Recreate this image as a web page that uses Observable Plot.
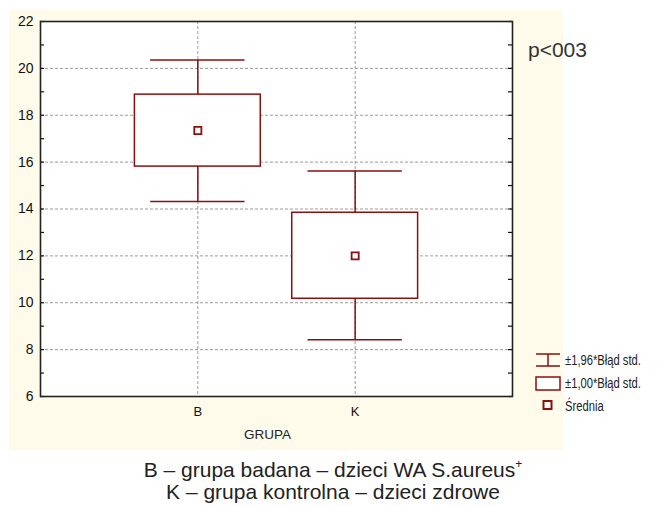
<!DOCTYPE html>
<html>
<head>
<meta charset="utf-8">
<script src="https://cdn.jsdelivr.net/npm/d3@7"></script>
<script src="https://cdn.jsdelivr.net/npm/@observablehq/plot@0.6"></script>
<style>
  body { margin: 0; background: #fff; font-family: "Liberation Sans", Arial, sans-serif; }
  #wrap { position: relative; width: 667px; height: 506px; overflow: hidden; }
  #beige { position: absolute; left: 9px; top: 10px; width: 554px; height: 440px; background: #fefbeb; }
  #chart { position: absolute; left: 0; top: 0; }
  #pval { position: absolute; left: 528px; top: 38px; font-size: 21px; color: #333; white-space: nowrap; }
  #legend { position: absolute; left: 535px; top: 348px; font-size: 14px; color: #222; white-space: nowrap; }
  #legend div { height: 23px; display: flex; align-items: center; }
  #legend svg { margin-right: 4px; flex: none; }
  #legend span { display: inline-block; transform: scaleX(0.8); transform-origin: left center; }
  #caption { position: absolute; left: 0; top: 459px; width: 666px; text-align: center; font-size: 21px; line-height: 22px; color: #222; }
  #caption sup { font-size: 12px; vertical-align: 9px; line-height: 0; }
</style>
</head>
<body>
<div id="wrap">
  <div id="beige"></div>
  <div id="chart"></div>
  <div id="pval">p&lt;003</div>
  <div id="legend">
    <div><svg width="26" height="16"><path d="M1,2H25M13,2V14M1,14H25" stroke="#8b0f0f" stroke-width="1.5" fill="none"/></svg><span>±1,96*Błąd std.</span></div>
    <div><svg width="26" height="16"><rect x="1" y="2" width="24" height="13" stroke="#8b0f0f" stroke-width="1.5" fill="white"/></svg><span>±1,00*Błąd std.</span></div>
    <div><svg width="26" height="16"><rect x="8.5" y="3" width="8" height="8" stroke="#8b0f0f" stroke-width="2" fill="white"/></svg><span>Średnia</span></div>
  </div>
  <div id="caption">B – grupa badana – dzieci WA S.aureus<sup>+</sup><br>K – grupa kontrolna – dzieci zdrowe</div>
</div>
<script>
const groups = ["B", "K"];
const means = [17.35, 12.0];
const seLow = [15.81, 10.17];
const seHigh = [18.88, 13.84];
const ciLow = [14.32, 8.42];
const ciHigh = [20.36, 15.62];
const yTicks = [6, 8, 10, 12, 14, 16, 18, 20, 22];
const yMinor = [7, 9, 11, 13, 15, 17, 19, 21];

const data = groups.map((g, i) => ({
  g, pos: i + 1, mean: means[i], lo1: seLow[i], hi1: seHigh[i], lo2: ciLow[i], hi2: ciHigh[i]
}));

const red = "#8b0f0f";
const W = 667, H = 450, mL = 40, mR = 155, mT = 21, mB = 54;
const innerW = W - mL - mR;

const chart = Plot.plot({
  width: W, height: H,
  marginLeft: mL, marginRight: mR, marginTop: mT, marginBottom: mB,
  style: { background: "transparent", fontFamily: "Liberation Sans, Arial, sans-serif", color: "#111", overflow: "visible" },
  x: { domain: [0, 3] },
  y: { domain: [6, 22] },
  marks: [
    Plot.frame({ fill: "white" }),
    Plot.gridY(yTicks.slice(1, -1), { stroke: "#9a9a9a", strokeOpacity: 1, strokeDasharray: "3,2" }),
    Plot.gridX([1, 2], { stroke: "#9a9a9a", strokeOpacity: 1, strokeDasharray: "3,2" }),
    Plot.ruleX(data, { x: "pos", y1: "lo2", y2: "lo1", stroke: red, strokeWidth: 1.5 }),
    Plot.ruleX(data, { x: "pos", y1: "hi1", y2: "hi2", stroke: red, strokeWidth: 1.5 }),
    Plot.ruleY(data, { y: "lo2", x1: d => d.pos - 0.3, x2: d => d.pos + 0.3, stroke: red, strokeWidth: 1.5 }),
    Plot.ruleY(data, { y: "hi2", x1: d => d.pos - 0.3, x2: d => d.pos + 0.3, stroke: red, strokeWidth: 1.5 }),
    Plot.rect(data, { x1: d => d.pos - 0.4, x2: d => d.pos + 0.4, y1: "lo1", y2: "hi1", fill: "white", stroke: red, strokeWidth: 1.5 }),
    Plot.dot(data, { x: "pos", y: "mean", symbol: "square", r: 4, fill: "white", stroke: red, strokeWidth: 1.8 }),
    Plot.tickY(yTicks.concat(yMinor), { y: d => d, insetRight: innerW - 4, stroke: "#111", strokeWidth: 1.2 }),
    Plot.tickY(yTicks.concat(yMinor), { y: d => d, insetLeft: innerW - 4, stroke: "#111", strokeWidth: 1.2 }),
    Plot.frame({ stroke: "#222", strokeWidth: 1.6 }),
    Plot.axisY({ ticks: yTicks, tickSize: 0, tickPadding: 7, fontSize: 14, fill: "#111", label: null }),
    Plot.axisX({ ticks: [1, 2], tickFormat: d => groups[d - 1], tickSize: 0, tickPadding: 10, fontSize: 13, fill: "#111", label: null }),
    Plot.text(["GRUPA"], { frameAnchor: "bottom", dy: 42, dx: -9, fontSize: 13.5, fill: "#222" })
  ]
});
document.getElementById("chart").appendChild(chart);
</script>
</body>
</html>
